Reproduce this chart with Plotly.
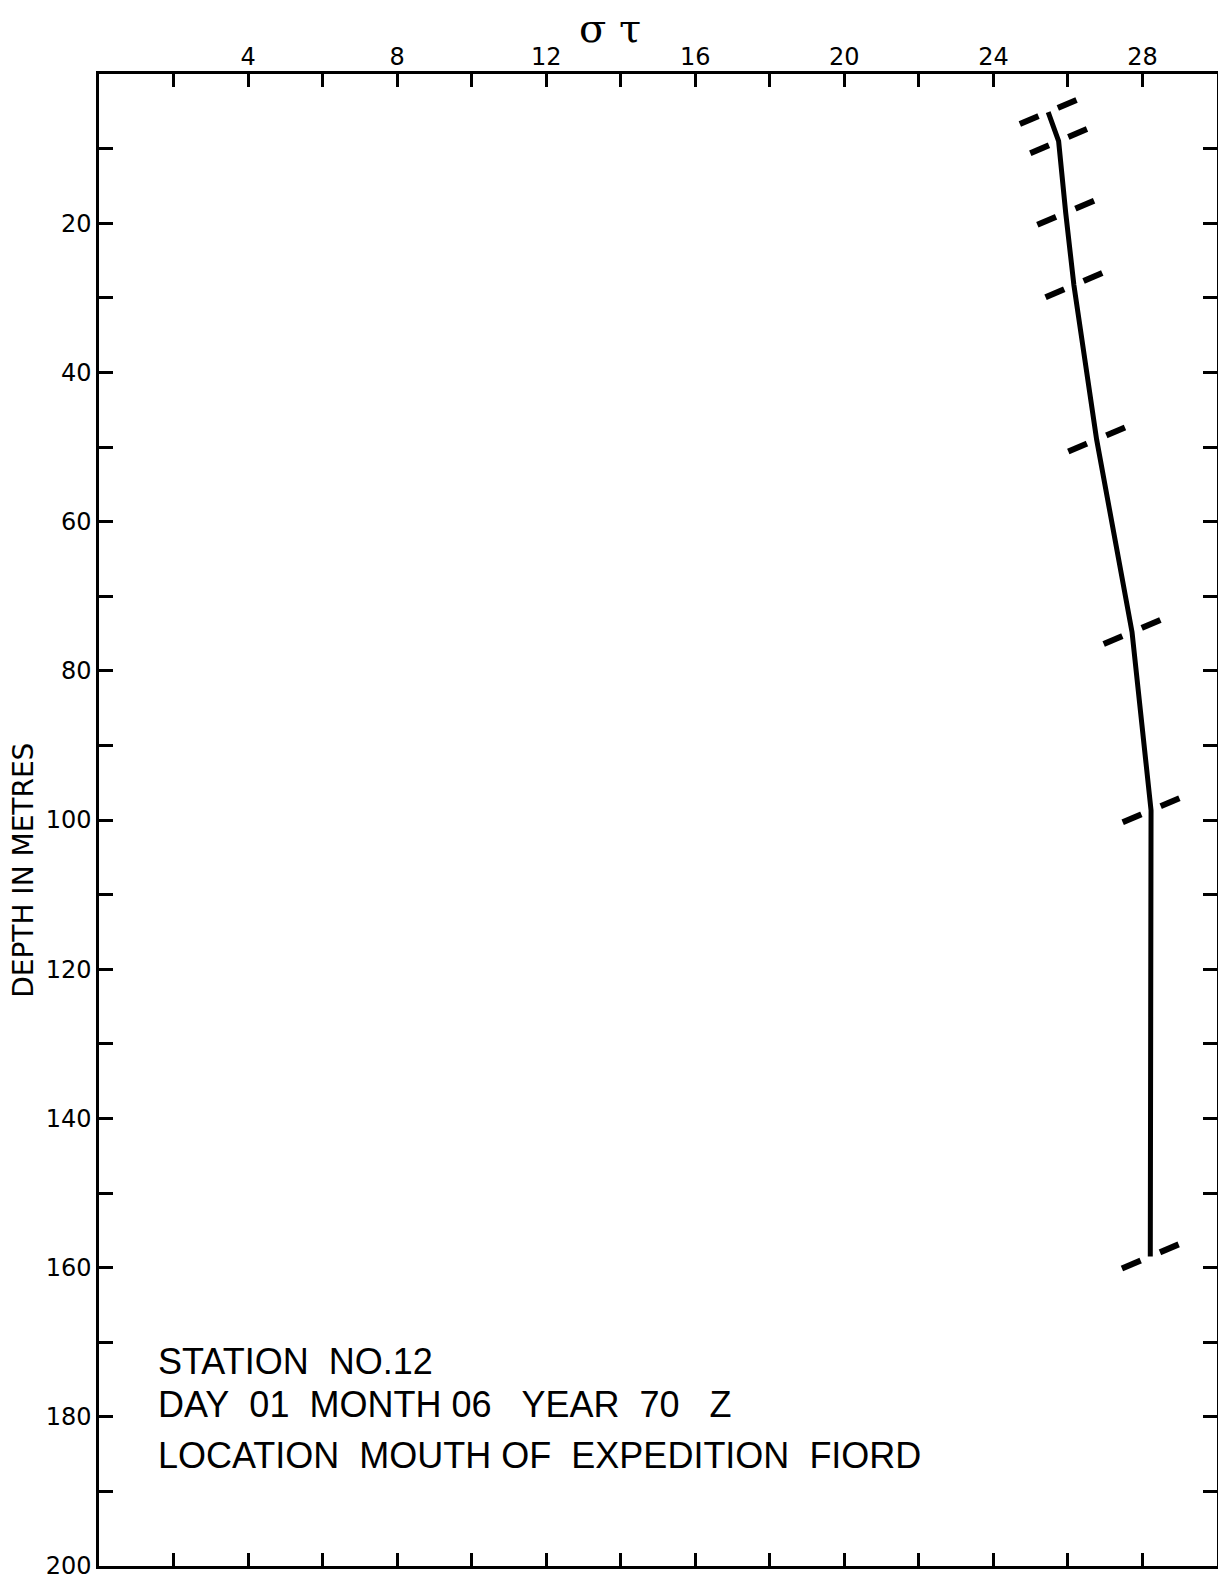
import plotly.graph_objects as go

# ---- data ----
depth_m = [5.1, 9.0, 18.6, 28.3, 49.0, 74.8, 98.7, 158.5]
sigma_t = [25.47, 25.75, 25.94, 26.16, 26.77, 27.72, 28.23, 28.21]

x_tickvals = [2, 4, 6, 8, 10, 12, 14, 16, 18, 20, 22, 24, 26, 28]
x_ticktext = ["", "4", "", "8", "", "12", "", "16", "", "20", "", "24", "", "28"]
y_tickvals = [10, 20, 30, 40, 50, 60, 70, 80, 90, 100, 110, 120, 130, 140, 150, 160, 170, 180, 190, 200]
y_ticktext = ["", "20", "", "40", "", "60", "", "80", "", "100", "", "120", "", "140", "", "160", "", "180", "", "200"]

info_lines = [
    "STATION\u00a0\u00a0NO.12",
    "DAY\u00a0\u00a001\u00a0\u00a0MONTH 06\u00a0\u00a0\u00a0YEAR\u00a0\u00a070\u00a0\u00a0\u00a0Z",
    "LOCATION\u00a0\u00a0MOUTH OF\u00a0\u00a0EXPEDITION\u00a0\u00a0FIORD",
]
info_depths = [172.6, 178.4, 185.2]

fig = go.Figure()

# observation hash marks (black dash, with white gap where profile passes)
fig.add_trace(go.Scatter(
    x=sigma_t, y=depth_m, mode="markers", hoverinfo="skip",
    marker=dict(symbol="line-ew", size=44, angle=-23, color="black",
                line=dict(color="black", width=6)),
    showlegend=False))
fig.add_trace(go.Scatter(
    x=sigma_t, y=depth_m, mode="markers", hoverinfo="skip",
    marker=dict(symbol="line-ew", size=15, angle=-23, color="white",
                line=dict(color="white", width=11)),
    showlegend=False))
# sigma-t profile
fig.add_trace(go.Scatter(
    x=sigma_t, y=depth_m, mode="lines",
    line=dict(color="black", width=5),
    showlegend=False))

tickfont = dict(family="DejaVu Sans", size=24, color="black")

fig.update_xaxes(
    side="top", range=[0, 30], tickmode="array",
    tickvals=x_tickvals, ticktext=x_ticktext,
    ticks="inside", ticklen=13, tickwidth=2.5, tickcolor="black",
    showline=True, linewidth=2.5, linecolor="black", mirror="ticks",
    showgrid=False, zeroline=False, tickfont=tickfont, ticklabelstandoff=-3,
    ticklabeloverflow="allow", automargin=False,
)
fig.update_yaxes(
    range=[200, 0], tickmode="array",
    tickvals=y_tickvals, ticktext=y_ticktext,
    ticks="inside", ticklen=14, tickwidth=2.5, tickcolor="black",
    showline=True, linewidth=2.5, linecolor="black", mirror="ticks",
    showgrid=False, zeroline=False, tickfont=tickfont, ticklabelstandoff=0,
    ticklabeloverflow="allow", automargin=False,
)

annotations = []
for txt, d in zip(info_lines, info_depths):
    annotations.append(dict(
        x=1.52, y=d, xref="x", yref="y", text=txt, showarrow=False,
        xanchor="left", yanchor="middle",
        font=dict(family="Liberation Sans", size=36, color="black")))
annotations.append(dict(
    x=-0.067, y=0.466, xref="paper", yref="paper", text="DEPTH IN METRES",
    textangle=-90, showarrow=False, xanchor="center", yanchor="middle",
    font=dict(family="DejaVu Sans", size=28, color="black")))
annotations.append(dict(
    x=0.4575, y=1.031, xref="paper", yref="paper", text="σ\u00a0τ",
    showarrow=False, xanchor="center", yanchor="middle",
    font=dict(family="DejaVu Serif", size=40, color="black")))

fig.update_layout(
    width=1218, height=1579,
    margin=dict(l=99, r=1, t=74, b=13, autoexpand=False),
    paper_bgcolor="white", plot_bgcolor="white",
    annotations=annotations,
    showlegend=False,
)

fig.write_html("out.html")
